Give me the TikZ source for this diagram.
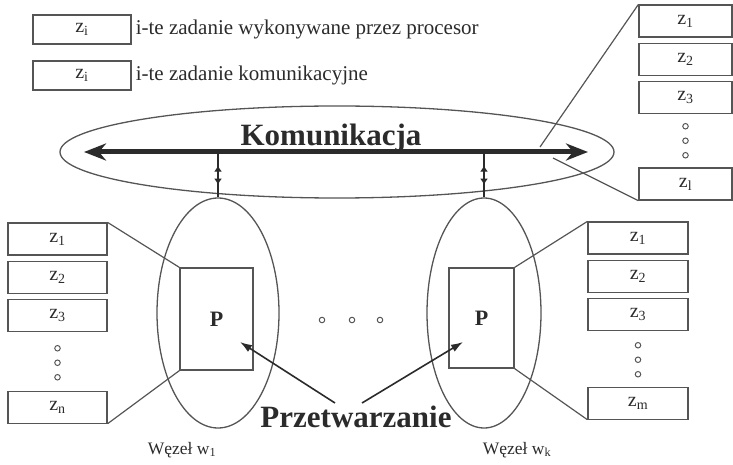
\documentclass[tikz,border=0pt]{standalone}
\usepackage{fontspec}
\setmainfont{Liberation Serif}
\usepackage{tikz}
\usetikzlibrary{arrows.meta,positioning,shapes.geometric,decorations.markings}
\definecolor{ink}{HTML}{2B2B2B}
\definecolor{edge}{HTML}{555555}

\begin{document}
\begin{tikzpicture}[
  x=1pt, y=1pt,
  cell/.style={draw=edge, line width=1.2pt, minimum width=99pt, minimum height=32pt, inner sep=0pt, font=\fontsize{20}{22}\selectfont, text=ink},
  legbox/.style={cell, minimum width=98pt, minimum height=29pt},
  legtxt/.style={anchor=west, inner sep=0pt, font=\fontsize{21}{24}\selectfont, text=ink},
  pbox/.style={draw=edge, line width=1.2pt, minimum height=102pt, inner sep=0pt, font=\fontsize{22}{24}\bfseries\selectfont, text=ink},
  wezel/.style={draw=edge, line width=1.3pt, ellipse, minimum height=230pt, inner sep=0pt},
  dotc/.style={draw=edge, line width=1pt, circle, minimum size=5.5pt, inner sep=0pt},
  big/.style={font=\fontsize{31}{34}\bfseries\selectfont, text=ink, inner sep=0pt},
  lbl/.style={font=\fontsize{17.5}{20}\selectfont, text=ink, inner sep=0pt},
  conn/.style={draw=edge, line width=1.2pt},
  busarr/.style={draw=ink, line width=5pt, {Stealth[length=22pt,width=17pt,inset=7pt]}-{Stealth[length=22pt,width=17pt,inset=7pt]}},
  tap/.style={draw=ink, line width=2.5pt, postaction={decorate},
    decoration={markings,
      mark=at position 0.7 with {\arrow{Latex[length=6pt,width=8pt]}},
      mark=at position 0.28 with {\arrowreversed{Latex[length=6pt,width=8pt]}}}},
  parr/.style={draw=ink, line width=1.6pt, -{Latex[length=12pt,width=8pt]}}
]
  \useasboundingbox (0,0) rectangle (733,464);

  % legenda
  \node[legbox] (leg1) at (82,434.5) {z\textsubscript{i}};
  \node[legbox] (leg2) at (82,388.5) {z\textsubscript{i}};
  \node[legtxt, right=4pt of leg1] (legt1) {i-te zadanie wykonywane przez procesor};
  \node[legtxt, right=4pt of leg2] (legt2) {i-te zadanie komunikacyjne};

  % komunikacja
  \node[wezel, minimum width=554pt, minimum height=92pt] (bus) at (337,312) {};
  \node[big] (kom) at (331,326) {Komunikacja};
  \coordinate (busW) at (84,312);
  \coordinate (busE) at (588,312);
  \draw[busarr] (busW) -- (busE);

  % wezly
  \node[wezel, minimum width=122pt] (w1) at (218,151) {};
  \node[wezel, minimum width=114pt] (wk) at (484,151) {};
  \node[pbox, minimum width=73pt] (p1) at (216.5,145) {P};
  \node[pbox, minimum width=65pt, minimum height=100pt] (pk) at (481.5,146) {P};
  \coordinate (tap1) at (218,312);
  \coordinate (tapk) at (484,312);
  \draw[tap] (w1.north) -- (tap1);
  \draw[tap] (wk.north) -- (tapk);

  \node[dotc] (m1) at (322,144) {};
  \node[dotc] (m2) at (352,144) {};
  \node[dotc] (m3) at (380,144) {};

  \node[lbl] (lab1) at (182,14) {Węzeł w\textsubscript{1}};
  \node[lbl] (labk) at (517,14) {Węzeł w\textsubscript{k}};

  % zadania procesora w1
  \node[cell] (lz1) at (57.5,225) {z\textsubscript{1}};
  \node[cell, below=5pt of lz1] (lz2) {z\textsubscript{2}};
  \node[cell, below=5pt of lz2] (lz3) {z\textsubscript{3}};
  \node[dotc, below=13pt of lz3] (ld1) {};
  \node[dotc, below=8pt of ld1] (ld2) {};
  \node[dotc, below=8pt of ld2] (ld3) {};
  \node[cell, below=10pt of ld3] (lzn) {z\textsubscript{n}};

  % zadania procesora wk
  \node[cell, minimum width=100pt] (rz1) at (638,226) {z\textsubscript{1}};
  \node[cell, minimum width=100pt, below=5pt of rz1] (rz2) {z\textsubscript{2}};
  \node[cell, minimum width=100pt, below=5pt of rz2] (rz3) {z\textsubscript{3}};
  \node[dotc, below=11pt of rz3] (rd1) {};
  \node[dotc, below=8pt of rd1] (rd2) {};
  \node[dotc, below=8pt of rd2] (rd3) {};
  \node[cell, minimum width=100pt, below=9pt of rd3] (rzm) {z\textsubscript{m}};

  % zadania komunikacyjne
  \node[cell, minimum width=93pt] (tz1) at (685.5,443) {z\textsubscript{1}};
  \node[cell, minimum width=93pt, below=5pt of tz1] (tz2) {z\textsubscript{2}};
  \node[cell, minimum width=93pt, below=5pt of tz2] (tz3) {z\textsubscript{3}};
  \node[dotc, below=9pt of tz3] (td1) {};
  \node[dotc, below=8pt of td1] (td2) {};
  \node[dotc, below=8pt of td2] (td3) {};
  \node[cell, minimum width=93pt, below=9pt of td3] (tzl) {z\textsubscript{l}};

  \draw[conn] (lz1.north east) -- (p1.north west);
  \draw[conn] (lzn.south east) -- (p1.south west);
  \draw[conn] (pk.north east) -- (rz1.north west);
  \draw[conn] (pk.south east) -- (rzm.south west);
  \coordinate (busA) at (540,317);
  \coordinate (busB) at (553,306);
  \draw[conn] (tz1.north west) -- (busA);
  \draw[conn] (tzl.south west) -- (busB);

  % przetwarzanie
  \node[big] (prz) at (356,47) {Przetwarzanie};
  \coordinate (przL) at (335,61);
  \coordinate (przR) at (362,61);
  \coordinate (hit1) at (240,122);
  \coordinate (hitk) at (463,122);
  \draw[parr] (przL) -- (hit1);
  \draw[parr] (przR) -- (hitk);
\end{tikzpicture}
\end{document}
